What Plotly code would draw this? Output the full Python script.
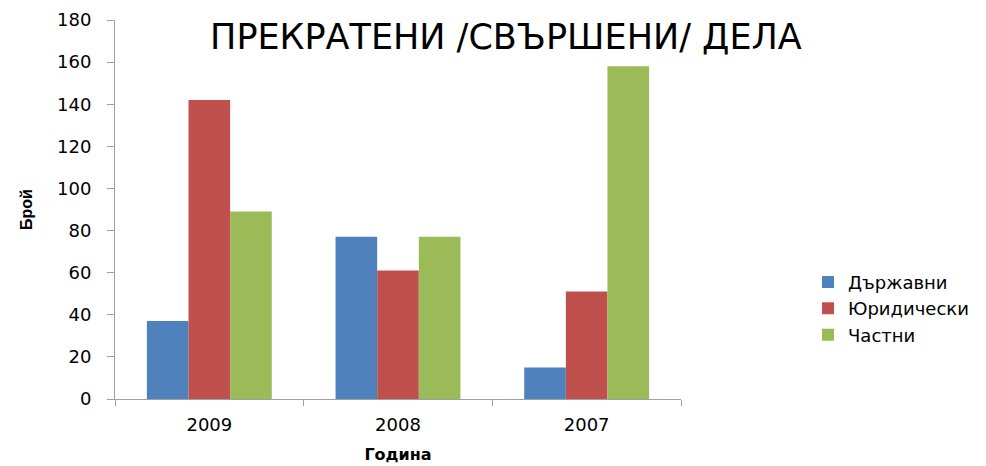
import plotly.graph_objects as go

years = ["2009", "2008", "2007"]
series_names = ["Държавни", "Юридически", "Частни"]
darzhavni = [37, 77, 15]
yuridicheski = [142, 61, 51]
chastni = [89, 77, 158]
colors = ["#4F81BD", "#C0504D", "#9BBB59"]
title_text = "ПРЕКРАТЕНИ /СВЪРШЕНИ/ ДЕЛА"
y_ticks = [0, 20, 40, 60, 80, 100, 120, 140, 160, 180]

fig = go.Figure()
for name, vals, col in zip(series_names, [darzhavni, yuridicheski, chastni], colors):
    fig.add_trace(go.Bar(x=years, y=vals, name=name, marker=dict(color=col, line=dict(width=0))))

fig.update_layout(
    width=986, height=466,
    margin=dict(l=107, r=313, t=12, b=75, autoexpand=False),
    paper_bgcolor="white", plot_bgcolor="white",
    barmode="group", bargap=0.338, bargroupgap=0,
    title=dict(text=title_text, x=0.505, xanchor="center", y=0.938, yanchor="middle",
               font=dict(family="DejaVu Sans", size=35, color="#000000")),
    legend=dict(x=1.2244, y=0.357, xanchor="left", yanchor="top",
                font=dict(family="DejaVu Sans", size=18, color="#000000"),
                tracegroupgap=10, itemsizing="constant", traceorder="normal"),
    showlegend=True,
)
fig.update_xaxes(
    type="category", showline=True, linecolor="#A0A0A0", linewidth=1,
    ticks="outside", tickson="boundaries", ticklen=6, tickcolor="#A0A0A0",
    ticklabelstandoff=9,
    tickfont=dict(family="DejaVu Sans", size=18, color="#000000"),
    title=dict(text="<b>Година</b>", font=dict(family="DejaVu Sans", size=16, color="#000000"), standoff=15),
    showgrid=False,
)
fig.update_yaxes(
    range=[0, 180], tickvals=y_ticks, showline=True, linecolor="#A0A0A0", linewidth=1,
    ticks="outside", ticklen=7, tickcolor="#A0A0A0",
    ticklabelstandoff=12,
    tickfont=dict(family="DejaVu Sans", size=18, color="#000000"),
    title=dict(text="<b>Брой</b>", font=dict(family="Liberation Sans Narrow, Liberation Sans", size=16, color="#000000"), standoff=20),
    showgrid=False, zeroline=False,
)

fig.write_html("out.html")
